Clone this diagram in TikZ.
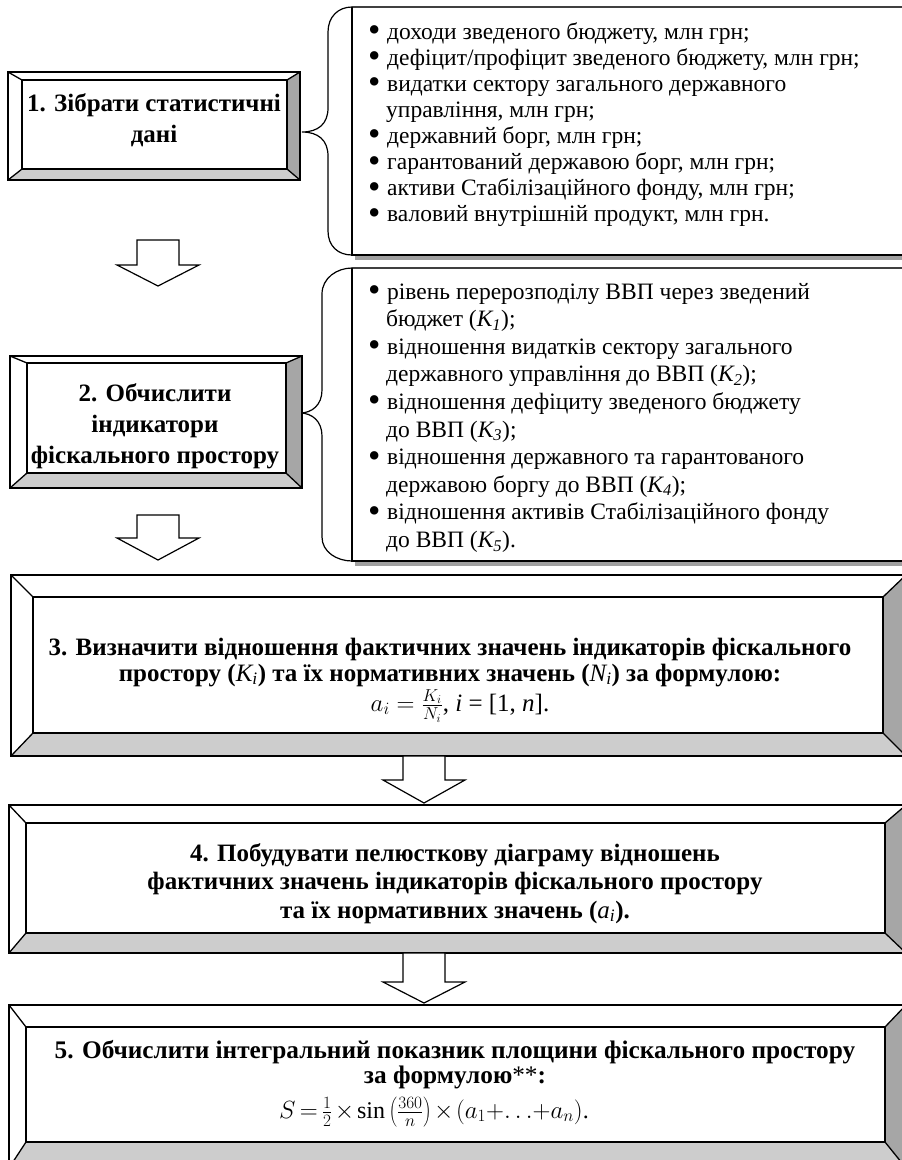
\documentclass[tikz,border=0pt]{standalone}
\usepackage{fontspec}
\usepackage{graphicx}
\setmainfont{Liberation Serif}
\usetikzlibrary{calc}
\definecolor{bevR}{HTML}{A6A6A6}
\definecolor{bevB}{HTML}{CDCDCD}
\definecolor{shad}{HTML}{A0A0A0}
\definecolor{ptop}{HTML}{404040}
\newcommand{\li}{\makebox[19pt][l]{\smash{\raisebox{-2.5pt}{\scalebox{1.5}{\textbullet}}}}}
\newcommand{\lc}{\hspace*{18pt}}
\newcommand{\BevelBox}[5]{%
  \coordinate (#1o1) at (#2); \coordinate (#1o2) at (#3);
  \coordinate (#1i1) at (#4); \coordinate (#1i2) at (#5);
  \fill[white] (#1o1) rectangle (#1o2);
  \fill[bevR] (#1o1 -| #1o2) -- (#1o2) -- (#1i2) -- (#1i1 -| #1i2) -- cycle;
  \fill[bevB] (#1o1 |- #1o2) -- (#1o2) -- (#1i2) -- (#1i1 |- #1i2) -- cycle;
  \draw[bevline] (#1o1) -- (#1i1) (#1o1 -| #1o2) -- (#1i1 -| #1i2)
     (#1o2) -- (#1i2) (#1o1 |- #1o2) -- (#1i1 |- #1i2);
  \draw[boxline] (#1i1) rectangle (#1i2);
  \draw[boxline] (#1o1) rectangle (#1o2);
}
\newcommand{\BlockArrow}[3]{%
  \draw[blockarrow] ($(#1)+(-21,0)$) -- ($(#1)+(21,0)$) -- ($(#1)+(21,#2)$)
    -- ($(#1)+(41,#2)$) -- ($(#1)+(0,#3)$) -- ($(#1)+(-41,#2)$)
    -- ($(#1)+(-21,#2)$) -- cycle;
}
\begin{document}
\begin{tikzpicture}[x=1pt,y=-1pt,
  boxline/.style={line width=2.4pt,line join=miter},
  bevline/.style={line width=1.3pt},
  blockarrow/.style={draw,fill=white,line width=1.2pt,line join=miter},
  braceline/.style={line width=1.2pt},
  paneltop/.style={line width=2pt,draw=ptop},
  panelshadow/.style={fill=shad}]
\useasboundingbox (0,0) rectangle (902,1160);
\clip (0,0) rectangle (902,1160);

% ---------- panel 1 ----------
\fill[panelshadow] (355,255) rectangle (905,260);
\draw[paneltop] (352,7) -- (905,7);
\draw[braceline] (905,255) -- (352,255) -- (352,7);
\coordinate (tip1) at (302,132);
\draw[braceline] (352,7) .. controls (338,7) and (328,17) .. (328,32) -- (328,108)
  .. controls (328,124) and (318,132) .. (tip1)
  .. controls (318,132) and (328,140) .. (328,156) -- (328,231)
  .. controls (328,246) and (338,255) .. (352,255);
\node[anchor=base west,inner sep=0pt] (list1) at (368,39) {\parbox[t]{530pt}{\raggedright\fontsize{23.5pt}{26.1pt}\selectfont
\li доходи зведеного бюджету, млн грн;\\
\li дефіцит/профіцит зведеного бюджету, млн грн;\\
\li видатки сектору загального державного\\
\lc управління, млн грн;\\
\li державний борг, млн грн;\\
\li гарантований державою борг, млн грн;\\
\li активи Стабілізаційного фонду, млн грн;\\
\li валовий внутрішній продукт, млн грн.}};

% ---------- panel 2 ----------
\fill[panelshadow] (355,561) rectangle (905,566);
\draw[paneltop] (352,268) -- (905,268);
\draw[braceline] (905,561) -- (352,561) -- (352,268);
\coordinate (tip2) at (300,413);
\draw[braceline] (352,268) .. controls (337,268) and (322,278) .. (322,294) -- (322,390)
  .. controls (322,405) and (312,413) .. (tip2)
  .. controls (312,413) and (322,421) .. (322,436) -- (322,537)
  .. controls (322,552) and (337,561) .. (352,561);
\node[anchor=base west,inner sep=0pt] (list2) at (368,299) {\parbox[t]{530pt}{\raggedright\fontsize{23.5pt}{27.6pt}\selectfont
\li рівень перерозподілу ВВП через зведений\\
\lc бюджет (\textit{K\textsubscript{1}});\\
\li відношення видатків сектору загального\\
\lc державного управління до ВВП (\textit{K\textsubscript{2}});\\
\li відношення дефіциту зведеного бюджету\\
\lc до ВВП (\textit{K\textsubscript{3}});\\
\li відношення державного та гарантованого\\
\lc державою боргу до ВВП (\textit{K\textsubscript{4}});\\
\li відношення активів Стабілізаційного фонду\\
\lc до ВВП (\textit{K\textsubscript{5}}).}};

% ---------- boxes ----------
\BevelBox{b1}{8,72}{300,180}{22,80}{287,169}
\node[anchor=base,inner sep=0pt] (t1) at (154,111) {\parbox[t]{262pt}{\centering\fontsize{25pt}{31pt}\selectfont\bfseries 1. Зібрати статистичні\\ дані}};

\BevelBox{b2}{10,356}{302,488}{27,363}{286,473}
\node[anchor=base,inner sep=0pt] (t2) at (155,401) {\parbox[t]{262pt}{\centering\fontsize{25pt}{31pt}\selectfont\bfseries 2. Обчислити\\ індикатори\\ фіскального простору}};

\BevelBox{b3}{11,575}{906,756}{33,597}{883,733}
\node[anchor=base,inner sep=0pt] (t3) at (450,655) {\parbox[t]{860pt}{\centering\fontsize{25pt}{26pt}\selectfont\bfseries 3. Визначити відношення фактичних значень індикаторів фіскального\\ простору (\textit{\mdseries K\textsubscript{i}}) та їх нормативних значень (\textit{\mdseries N\textsubscript{i}}) за формулою:}};
\node[anchor=base,inner sep=0pt] (f3) at (460,711) {\fontsize{25pt}{26pt}\selectfont $a_i=\frac{K_i}{N_i}$, \textit{i} = [1, \textit{n}].};

\BevelBox{b4}{9,805}{906,953}{26,823}{885,933}
\node[anchor=base,inner sep=0pt] (t4) at (455,861) {\parbox[t]{860pt}{\centering\fontsize{25pt}{28.5pt}\selectfont\bfseries 4. Побудувати пелюсткову діаграму відношень\\ фактичних значень індикаторів фіскального простору\\ та їх нормативних значень (\textit{\mdseries a\textsubscript{i}}).}};

\BevelBox{b5}{9,1005}{906,1168}{26,1027}{885,1142}
\node[anchor=base,inner sep=0pt] (t5) at (455,1058) {\parbox[t]{860pt}{\centering\fontsize{25.3pt}{25pt}\selectfont\bfseries 5. Обчислити інтегральний показник площини фіскального простору\\ за формулою\textmd{**}:}};
\node[anchor=base,inner sep=0pt] (f5) at (434,1118) {\fontsize{24pt}{26pt}\selectfont\medmuskip=2mu\thickmuskip=3mu $S=\frac{1}{2}\times\sin\left(\frac{360}{n}\right)\times(a_1{+}{\ldots}{+}a_n)$.};

% ---------- block arrows ----------
\coordinate (a1) at (158,240);
\coordinate (a2) at (158,515);
\coordinate (a3) at (424,756);
\coordinate (a4) at (424,953);
\BlockArrow{a1}{25}{46}
\BlockArrow{a2}{23}{45}
\BlockArrow{a3}{24}{47}
\BlockArrow{a4}{29}{50}
\end{tikzpicture}
\end{document}
